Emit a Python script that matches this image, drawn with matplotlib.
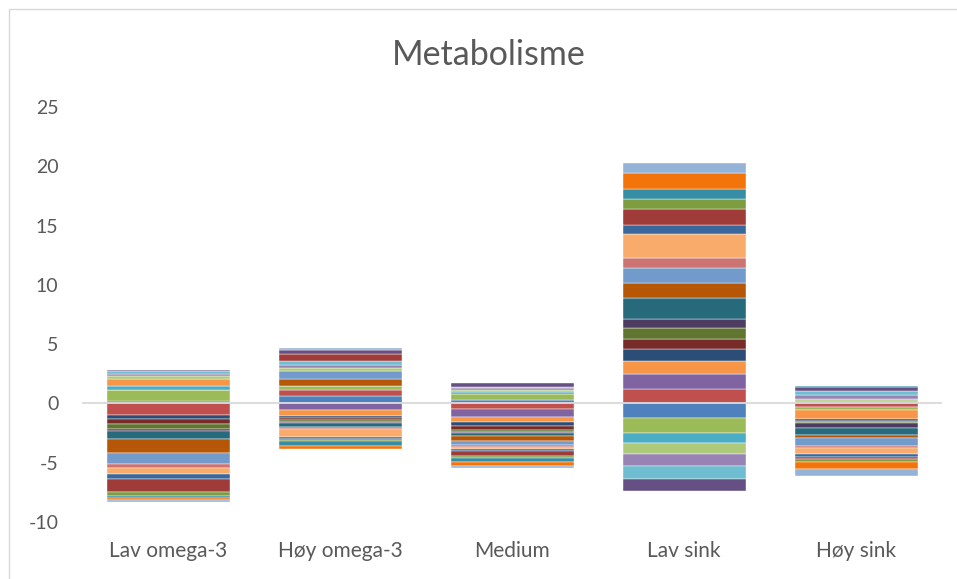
import colorsys
import numpy as np
import matplotlib
matplotlib.use('Agg')
import matplotlib.pyplot as plt
from matplotlib.patches import Rectangle

plt.rcParams['font.family'] = ['Lato', 'DejaVu Sans']
plt.rcParams['axes.unicode_minus'] = False

categories = ['Lav omega-3', 'Høy omega-3', 'Medium', 'Lav sink', 'Høy sink']

# one value per series (25 series)
lav_omega3 = [0.20, -1.00, 0.90, 0.00, 0.36, 0.56, -0.34, -0.42, -0.42, -0.17,
              -0.67, -1.12, -0.93, -0.34, 0.28, 0.20, 0.20, -0.51, -0.42, -1.12,
              -0.34, 0.09, -0.14, -0.17, -0.20]
hoy_omega3 = [0.62, 0.51, 0.34, -0.55, 0.00, -0.51, -0.19, -0.14, -0.19, -0.08,
              -0.29, 0.59, 0.70, -0.17, 0.23, 0.28, 0.34, -0.73, -0.17, 0.56,
              -0.17, 0.34, -0.40, -0.28, 0.14]
medium = [0.29, -0.50, 0.51, -0.62, 0.14, -0.47, -0.29, -0.36, -0.14, -0.14,
          -0.20, -0.42, -0.36, -0.14, 0.19, 0.14, 0.14, -0.22, -0.14, -0.40,
          -0.17, 0.31, -0.34, -0.36, -0.19]
lav_sink = [-1.21, 1.24, -1.32, 1.24, -0.84, 1.10, 0.99, 0.87, 0.90, 0.78,
            1.75, 1.26, 1.26, 0.89, -0.90, -1.01, -1.10, 2.00, 0.76, 1.32,
            0.87, -1.01, 0.82, 1.35, 0.84]
hoy_sink = [0.20, -0.28, -0.30, 0.00, 0.00, -0.72, -0.20, -0.04, -0.14, -0.42,
            -0.56, -0.23, -0.70, -0.19, 0.17, 0.34, 0.34, -0.51, -0.20, -0.22,
            -0.20, 0.36, 0.08, -0.62, -0.59]

data = np.array([lav_omega3, hoy_omega3, medium, lav_sink, hoy_sink])  # (cat, series)
n_series = data.shape[1]

# office 2007 style series colours
accents = ['#4F81BD', '#C0504D', '#9BBB59', '#8064A2', '#4BACC6', '#F79646']
shades = [(1, 0), (0.6, 0), (0.8, 0.2), (0.8, 0), (0.6, 0.4), (0.5, 0), (0.7, 0.3), (0.7, 0)]


def series_color(i):
    r, g, b = matplotlib.colors.to_rgb(accents[i % 6])
    h, l, s = colorsys.rgb_to_hls(r, g, b)
    mod, off = shades[(i // 6) % len(shades)]
    return colorsys.hls_to_rgb(h, min(1, l * mod + off), s)


fig = plt.figure(figsize=(9.57, 5.79), dpi=100)
ax = fig.add_axes([0.0857, 0.0984, 0.8987, 0.7168])

x = np.arange(len(categories))
pos_base = np.zeros(len(categories))
neg_base = np.zeros(len(categories))
for i in range(n_series):
    vals = data[:, i]
    bottoms = np.where(vals >= 0, pos_base, neg_base)
    ax.bar(x, vals, 0.715, bottom=bottoms, color=series_color(i),
           edgecolor='white', linewidth=0.3, zorder=2)
    pos_base += np.clip(vals, 0, None)
    neg_base += np.clip(vals, None, 0)

ax.axhline(0, color='#D9D9D9', lw=1.3, zorder=3)
ax.set_xlim(-0.5, len(categories) - 0.5)
ax.set_ylim(-10, 25)
ax.set_yticks(np.arange(-10, 26, 5))
ax.set_xticks(x)
ax.set_xticklabels(categories)
for sp in ax.spines.values():
    sp.set_visible(False)
ax.tick_params(axis='y', length=0, pad=17, labelsize=14, labelcolor='#595959')
ax.tick_params(axis='x', length=0, pad=14, labelsize=15, labelcolor='#595959')

fig.text(0.511, 0.905, 'Metabolisme', ha='center', va='center', fontsize=24.5, color='#595959')

# chart area border
fig.patches.append(Rectangle((9 / 957, -0.1), 1.2, 1 - 9 / 579 + 0.1, transform=fig.transFigure,
                             fill=False, edgecolor='#D9D9D9', lw=1))

fig.savefig('out.png', dpi=100)
